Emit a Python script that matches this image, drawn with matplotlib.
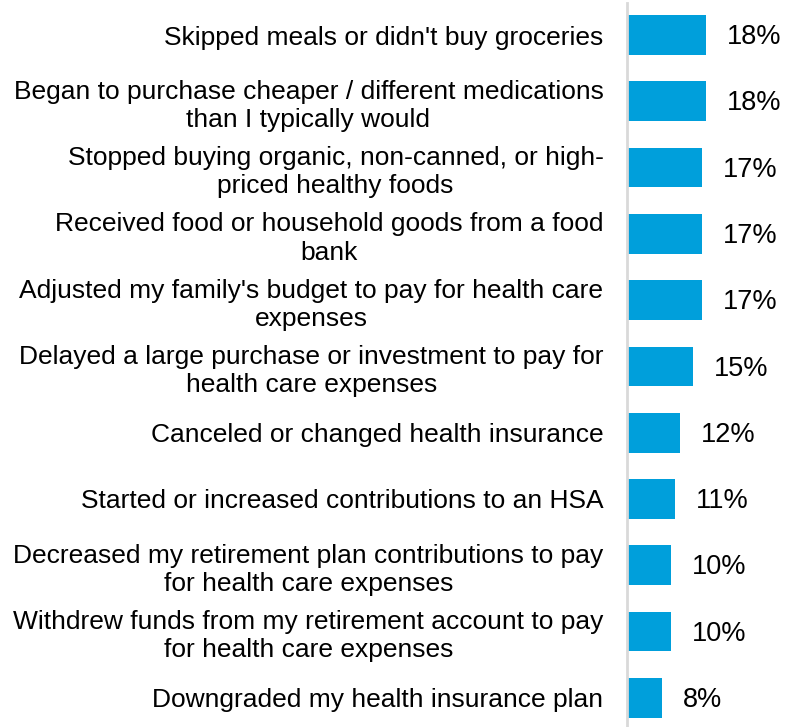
import matplotlib.pyplot as plt

plt.rcParams['font.family'] = ['Liberation Sans', 'DejaVu Sans']

labels = [
    "Skipped meals or didn't buy groceries",
    "Began to purchase cheaper / different medications\nthan I typically would",
    "Stopped buying organic, non-canned, or high-\npriced healthy foods",
    "Received food or household goods from a food\nbank",
    "Adjusted my family's budget to pay for health care\nexpenses",
    "Delayed a large purchase or investment to pay for\nhealth care expenses",
    "Canceled or changed health insurance",
    "Started or increased contributions to an HSA",
    "Decreased my retirement plan contributions to pay\nfor health care expenses",
    "Withdrew funds from my retirement account to pay\nfor health care expenses",
    "Downgraded my health insurance plan",
]
values = [18, 18, 17, 17, 17, 15, 12, 11, 10, 10, 8]

fig = plt.figure(figsize=(7.85, 7.27), dpi=100)
ax = fig.add_axes([627 / 785, 0, 158 / 785, 724 / 727])

pos = list(range(len(values)))
ax.barh(pos, values, height=0.6, color='#009FDB')

# y-range chosen so that 11 rows fill the full height
ax.set_ylim(10.44, -0.483)
ax.set_xlim(0, 158 / 4.4)

for p, v in zip(pos, values):
    ax.annotate(f'{v}%', (v, p), xytext=(15, -1.5), textcoords='offset points',
                va='center', ha='left', fontsize=19.5, color='black')

ax.set_yticks(pos)
ax.set_yticklabels(labels, fontsize=19, linespacing=1.22)
for t in ax.get_yticklabels():
    t.set_multialignment('center')
ax.tick_params(axis='y', length=0, pad=17)
ax.set_xticks([])

for s in ['top', 'right', 'bottom']:
    ax.spines[s].set_visible(False)
ax.spines['left'].set_color('#D9D9D9')
ax.spines['left'].set_linewidth(2)
ax.spines['left'].set_bounds(10.44, -0.483)

fig.savefig('out.png', dpi=100)
